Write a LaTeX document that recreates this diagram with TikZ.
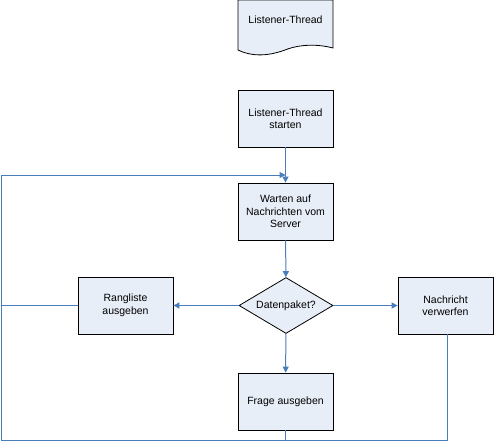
\documentclass[tikz,border=0pt]{standalone}
\usepackage{fontspec}
\setmainfont{Liberation Sans}
\usetikzlibrary{arrows.meta,shapes.geometric}
\definecolor{lineblue}{RGB}{74,126,187}
\definecolor{boxfill}{RGB}{232,238,247}
\begin{document}
\begin{tikzpicture}[x=1pt,y=-1pt,
  every node/.style={font=\fontsize{10.5}{12.5}\selectfont, align=center},
  procbox/.style={draw=black, fill=boxfill, line width=0.8pt, minimum width=95pt, minimum height=57pt, inner sep=0pt},
  decbox/.style={draw=black, fill=boxfill, line width=0.8pt, diamond, minimum width=94pt, minimum height=56pt, inner sep=0pt, aspect=1.7},
  conn/.style={draw=lineblue, line width=1pt},
  arr/.style={conn, -{Triangle[length=6pt,width=6pt]}}]
\useasboundingbox (0,0) rectangle (495,442);
% document shape
\filldraw[draw=black, fill=boxfill, line width=0.8pt] (238,0) -- (238,50)
  .. controls (250,56) and (266,57) .. (285,50)
  .. controls (300,44) and (318,44) .. (333,48) -- (333,0) -- cycle;
\node (doc) at (285.5,20) {Listener-Thread};
\node[procbox] (start) at (285.5,118.5) {Listener-Thread\\starten};
\node[procbox] (wait) at (285.5,211.5) {Warten auf\\Nachrichten vom\\Server};
\node[decbox] (dec) at (286,305.5) {Datenpaket?};
\node[procbox] (rang) at (125.5,305.5) {Rangliste\\ausgeben};
\node[procbox] (verw) at (445.5,305.5) {Nachricht\\verwerfen};
\node[procbox] (frage) at (285.5,401.5) {Frage ausgeben};
\coordinate (tl) at (1,175);
\coordinate (tr) at (285.5,175);
\coordinate (bl) at (1,440);
\coordinate (bm) at (285.5,440);
\coordinate (br) at (447,440);
\coordinate (ml) at (1,305.5);
\draw[arr] (start) -- (wait);
\draw[arr] (wait) -- (dec);
\draw[arr] (dec) -- (rang);
\draw[arr] (dec) -- (verw);
\draw[arr] (dec) -- (frage);
\draw[conn] (rang.west) -- (ml);
\draw[conn] (frage.south) -- (bm);
\draw[conn] (verw.south -| br) -- (br) -- (bl) -- (tl);
\draw[arr] (tl) -- (tr);
\end{tikzpicture}
\end{document}
